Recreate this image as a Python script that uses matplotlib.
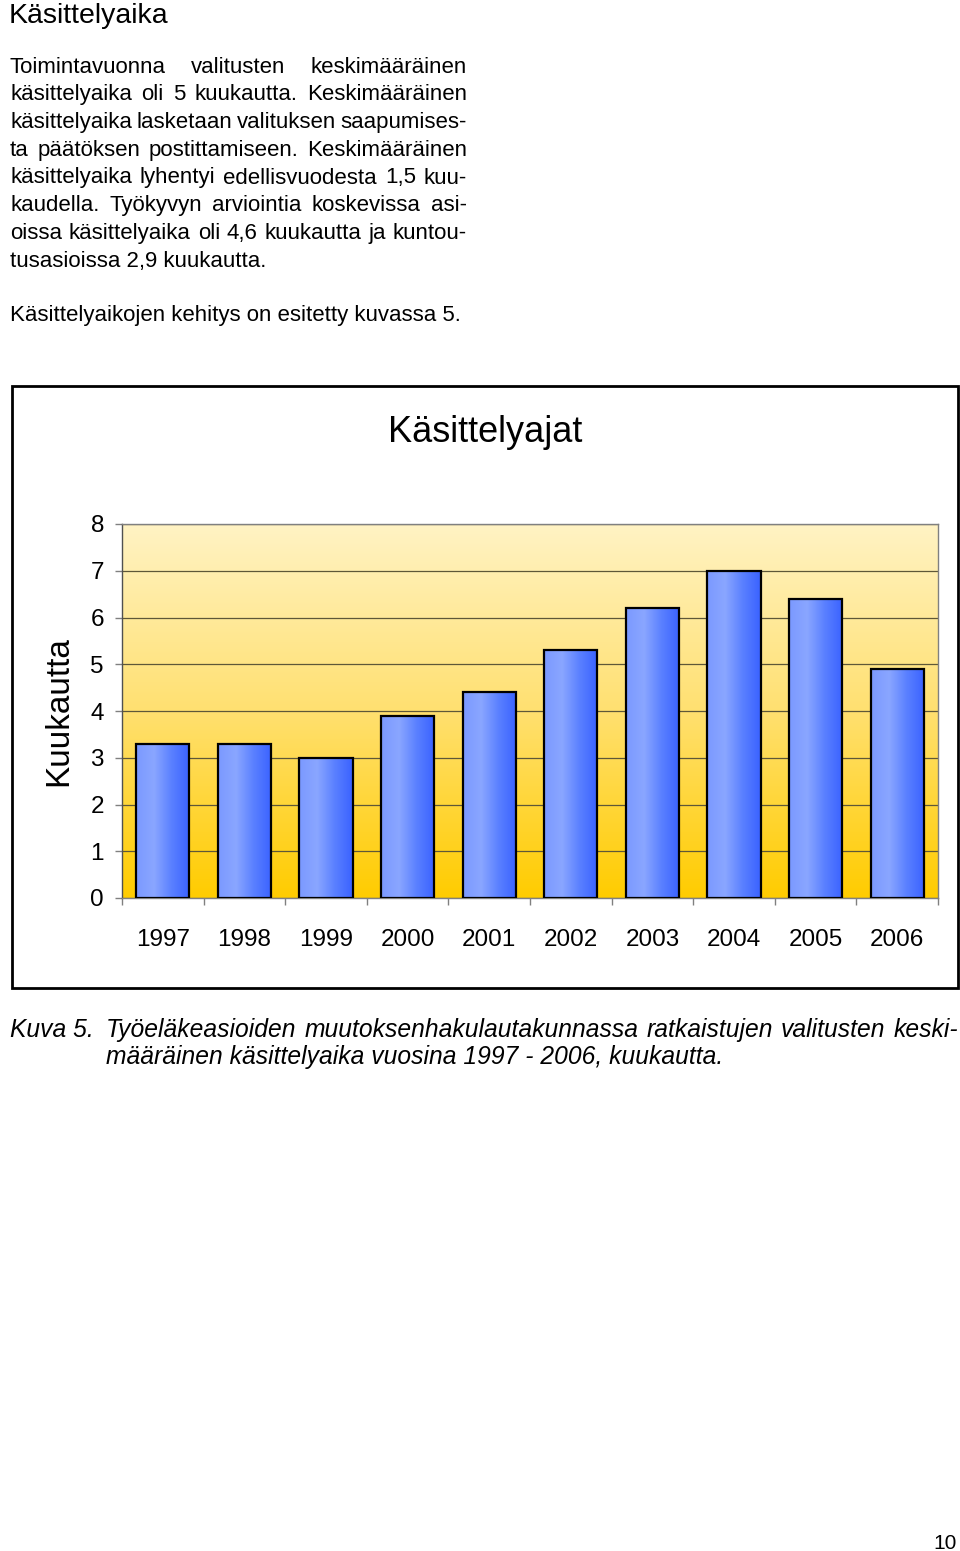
import matplotlib
matplotlib.use('Agg')
import matplotlib.pyplot as plt
import matplotlib.patches as patches
import numpy as np
from matplotlib.colors import LinearSegmentedColormap
from matplotlib import font_manager

# ── Data ──
years = ['1997', '1998', '1999', '2000', '2001', '2002', '2003', '2004', '2005', '2006']
months = [3.3, 3.3, 3.0, 3.9, 4.4, 5.3, 6.2, 7.0, 6.4, 4.9]
y_ticks = [0, 1, 2, 3, 4, 5, 6, 7, 8]

heading = 'Käsittelyaika'
body_lines = [
    'Toimintavuonna valitusten keskimääräinen',
    'käsittelyaika oli 5 kuukautta.  Keskimääräinen',
    'käsittelyaika lasketaan valituksen saapumises-',
    'ta päätöksen postittamiseen. Keskimääräinen',
    'käsittelyaika lyhentyi edellisvuodesta 1,5 kuu-',
    'kaudella. Työkyvyn arviointia koskevissa asi-',
    'oissa käsittelyaika oli 4,6 kuukautta ja kuntou-',
    'tusasioissa 2,9 kuukautta.',
]
last_line = 'Käsittelyaikojen kehitys on esitetty kuvassa 5.'
chart_title = 'Käsittelyajat'
y_label = 'Kuukautta'
cap_label = 'Kuva 5.'
cap_line1 = 'Työeläkeasioiden muutoksenhakulautakunnassa ratkaistujen valitusten keski-'
cap_line2 = 'määräinen käsittelyaika vuosina 1997 - 2006, kuukautta.'
page_no = '10'

# ── Fonts ──
installed = {f.name for f in font_manager.fontManager.ttflist}
SANS = 'Liberation Sans'
NARROW = 'Liberation Sans Narrow' if 'Liberation Sans Narrow' in installed else SANS
plt.rcParams['font.family'] = [SANS, 'DejaVu Sans']

# ── Figure ──
W, H = 960, 1551
fig = plt.figure(figsize=(W / 100, H / 100), dpi=100)
fig.patch.set_facecolor('white')
renderer = fig.canvas.get_renderer()


def fx(x):
    return x / W


def fy(y):
    return 1 - y / H


def text_width(s, size, family=SANS, style='normal'):
    t = fig.text(0, 0, s, fontsize=size, family=family, style=style)
    w = t.get_window_extent(renderer).width
    t.remove()
    return w


def justify(line, x0, x1, yb, size, family=SANS, style='normal'):
    words = line.split()
    items = [fig.text(0, 0, w, fontsize=size, family=family, style=style,
                      ha='left', va='baseline') for w in words]
    widths = [t.get_window_extent(renderer).width for t in items]
    gap = (x1 - x0 - sum(widths)) / max(len(words) - 1, 1)
    x = x0
    for t, w in zip(items, widths):
        t.set_position((fx(x), fy(yb)))
        x += w + gap


# ── Page text ──
BODY = 16.0
fig.text(fx(9), fy(23), heading, fontsize=20.5, ha='left', va='baseline')
base0, step = 72.7, 27.7
for i, ln in enumerate(body_lines):
    yb = base0 + i * step
    if i < len(body_lines) - 1:
        justify(ln, 10, 467, yb, BODY)
    else:
        fig.text(fx(10), fy(yb), ln, fontsize=BODY, ha='left', va='baseline')
fig.text(fx(10), fy(321), last_line, fontsize=BODY, ha='left', va='baseline')

# ── Chart frame ──
frame = patches.Rectangle((fx(12), fy(988)), fx(946), 602 / H, transform=fig.transFigure,
                          facecolor='none', edgecolor='black', linewidth=2.0)
fig.add_artist(frame)
fig.text(fx(485), fy(432), chart_title, fontsize=26, ha='center', va='center')

# ── Axes ──
ax = fig.add_axes([fx(122), fy(898), (938 - 122) / W, (898 - 524) / H])
x = np.arange(len(years))

bg_cmap = LinearSegmentedColormap.from_list('bg', ['#ffcc00', '#ffe070', '#fff3c4'])
ax.imshow(np.linspace(0, 1, 256).reshape(-1, 1), extent=[-0.5, len(years) - 0.5, 0, 8],
          origin='lower', aspect='auto', cmap=bg_cmap, zorder=0)

bars = ax.bar(x, months, width=0.65, facecolor='none', edgecolor='black',
              linewidth=1.6, zorder=3)
bar_cmap = LinearSegmentedColormap.from_list('bar', ['#7b99ff', '#8aa6ff', '#5a80ff', '#3a62ff'])
grad = np.linspace(0, 1, 128).reshape(1, -1)
for b in bars:
    im = ax.imshow(grad, extent=[b.get_x(), b.get_x() + b.get_width(), 0, b.get_height()],
                   aspect='auto', cmap=bar_cmap, zorder=2.5)
    im.set_clip_path(b)

ax.set_xlim(-0.5, len(years) - 0.5)
ax.set_ylim(0, 8)
ax.set_yticks(y_ticks)
ax.set_yticklabels([str(t) for t in y_ticks])
ax.set_xticks(x)
ax.set_xticklabels(years)
ax.set_xticks(np.arange(-0.5, len(years)), minor=True)
ax.tick_params(axis='x', which='major', length=0, pad=22, labelsize=17.5)
ax.tick_params(axis='x', which='minor', length=5, width=1, color='#808080', direction='out')
ax.tick_params(axis='y', length=5, width=1, color='#808080', pad=8, labelsize=17.5)

ax.set_axisbelow(True)
ax.grid(axis='y', color='#5e5738', linewidth=0.9)
for s in ax.spines.values():
    s.set_color('#808080')
    s.set_linewidth(1.0)
ax.spines['left'].set_color('#505050')

ax.set_ylabel(y_label, fontsize=24)
ax.yaxis.set_label_coords(-0.058, 0.5)

# ── Caption (shrink to fit, no condensed face available) ──
cap_size = 19.5
natural = text_width(cap_line1, cap_size, NARROW, 'italic')
if natural > 846:
    cap_size = cap_size * 846 / natural
fig.text(fx(10), fy(1037), cap_label, fontsize=cap_size, family=NARROW, style='italic',
         ha='left', va='baseline')
justify(cap_line1, 106, 958, 1037, cap_size, family=NARROW, style='italic')
fig.text(fx(106), fy(1064), cap_line2, fontsize=cap_size, family=NARROW, style='italic',
         ha='left', va='baseline')

fig.text(fx(957), fy(1549), page_no, fontsize=15, ha='right', va='baseline')

fig.savefig('out.png', dpi=100, facecolor='white')
plt.close()
